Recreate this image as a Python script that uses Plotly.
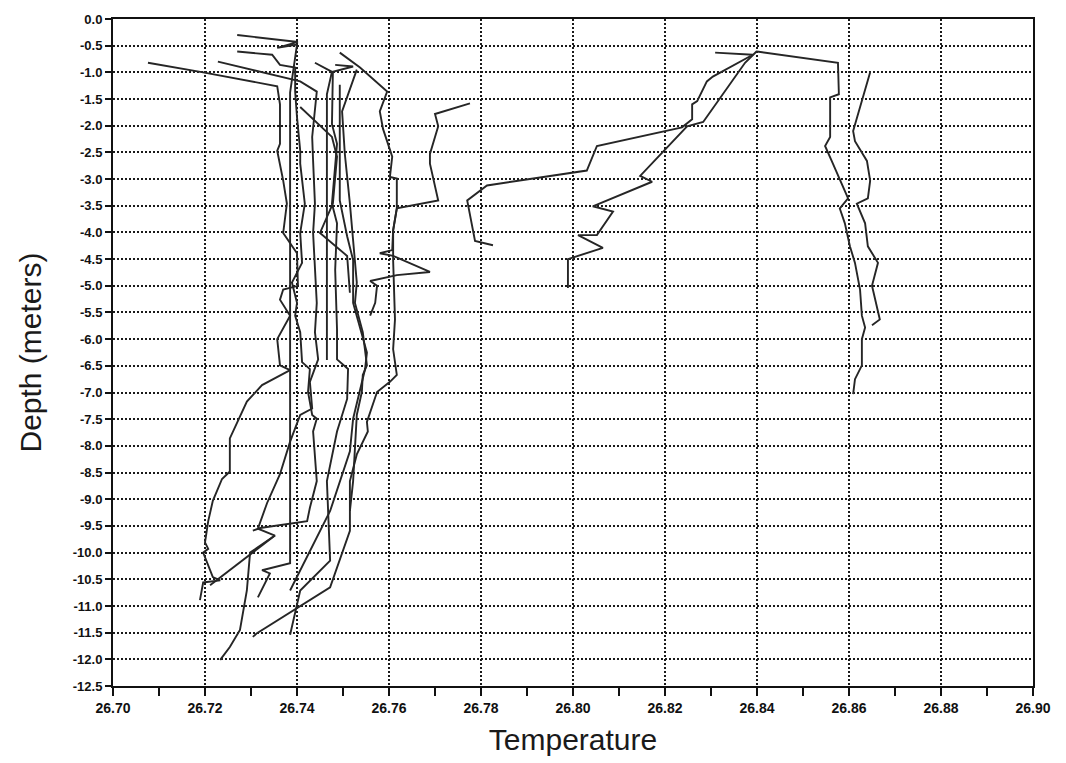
import plotly.graph_objects as go

# ---- tick labels ----
x_tick_vals = [26.70, 26.72, 26.74, 26.76, 26.78, 26.80, 26.82, 26.84, 26.86, 26.88, 26.90]
x_tick_text = ["26.70", "26.72", "26.74", "26.76", "26.78", "26.80", "26.82", "26.84", "26.86", "26.88", "26.90"]
y_tick_vals = [0.0, -0.5, -1.0, -1.5, -2.0, -2.5, -3.0, -3.5, -4.0, -4.5, -5.0, -5.5, -6.0, -6.5,
               -7.0, -7.5, -8.0, -8.5, -9.0, -9.5, -10.0, -10.5, -11.0, -11.5, -12.0, -12.5]
y_tick_text = ["0.0", "-0.5", "-1.0", "-1.5", "-2.0", "-2.5", "-3.0", "-3.5", "-4.0", "-4.5", "-5.0",
               "-5.5", "-6.0", "-6.5", "-7.0", "-7.5", "-8.0", "-8.5", "-9.0", "-9.5", "-10.0",
               "-10.5", "-11.0", "-11.5", "-12.0", "-12.5"]

# ---- temperature profiles (temperature, depth) ----
p01_temp = [26.7076, 26.7196, 26.7357, 26.7363, 26.7363, 26.7357, 26.7370, 26.7378, 26.7370, 26.7400,
            26.7402, 26.7370, 26.7363, 26.7385, 26.7357, 26.7363, 26.7385, 26.7324, 26.7291, 26.7254,
            26.7254, 26.7237, 26.7217, 26.7207, 26.7200, 26.7207, 26.7196, 26.7217, 26.7233, 26.7196, 26.7189]
p01_depth = [-0.82, -1.00, -1.26, -1.60, -2.34, -2.47, -3.03, -3.46, -4.01, -4.39,
             -5.00, -5.07, -5.26, -5.56, -6.00, -6.49, -6.58, -6.86, -7.17, -7.86,
             -8.48, -8.62, -9.03, -9.41, -9.81, -9.93, -10.00, -10.46, -10.52, -10.56, -10.89]

p02_temp = [26.7270, 26.7402, 26.7357, 26.7400, 26.7385, 26.7385, 26.7324, 26.7341, 26.7315]
p02_depth = [-0.30, -0.43, -0.54, -0.48, -1.38, -10.20, -10.33, -10.39, -10.84]

p03_temp = [26.7270, 26.7346, 26.7363, 26.7396, 26.7396, 26.7400, 26.7407, 26.7407, 26.7417, 26.7407,
            26.7411, 26.7389, 26.7400, 26.7396, 26.7407, 26.7411, 26.7428, 26.7424, 26.7433, 26.7443,
            26.7435, 26.7443, 26.7428, 26.7422, 26.7320, 26.7304]
p03_depth = [-0.61, -0.67, -0.86, -0.91, -1.36, -1.84, -2.47, -2.71, -3.46, -4.01,
             -4.57, -4.94, -5.32, -5.56, -5.87, -6.43, -6.56, -6.99, -7.42, -7.49,
             -7.73, -8.66, -9.16, -9.41, -9.54, -9.59]

p04_temp = [26.7228, 26.7407, 26.7443, 26.7433, 26.7435, 26.7439, 26.7435, 26.7443, 26.7439, 26.7446,
            26.7428, 26.7433, 26.7407, 26.7385, 26.7363, 26.7335, 26.7315, 26.7352, 26.7298, 26.7291,
            26.7276, 26.7254, 26.7233]
p04_depth = [-0.80, -1.17, -1.36, -2.21, -2.66, -3.46, -4.01, -5.32, -5.87, -6.38,
             -6.80, -7.30, -7.42, -7.92, -8.53, -9.07, -9.55, -9.68, -10.00, -10.71,
             -11.45, -11.77, -12.01]

p05_temp = [26.7439, 26.7476, 26.7465, 26.7465]
p05_depth = [-0.82, -0.99, -1.41, -6.39]

p06_temp = [26.7483, 26.7522, 26.7478, 26.7476, 26.7487, 26.7476, 26.7487, 26.7483, 26.7487, 26.7487,
            26.7511, 26.7509, 26.7487, 26.7467, 26.7465, 26.7472, 26.7407, 26.7385]
p06_depth = [-0.86, -0.89, -0.99, -1.97, -2.34, -3.46, -3.83, -4.70, -5.82, -6.38,
             -6.56, -7.12, -7.73, -8.53, -8.66, -10.15, -10.71, -11.54]

p07_temp = [26.7493, 26.7537, 26.7596, 26.7580, 26.7587, 26.7607, 26.7602, 26.7617, 26.7617, 26.7609,
            26.7609, 26.7613, 26.7609, 26.7617, 26.7602, 26.7574, 26.7552, 26.7554, 26.7530, 26.7515,
            26.7515, 26.7472, 26.7313, 26.7304]
p07_depth = [-0.63, -0.91, -1.36, -1.73, -2.06, -2.58, -2.96, -2.99, -3.55, -3.96,
             -4.52, -5.63, -6.19, -6.67, -6.80, -6.99, -7.55, -7.73, -8.16, -8.66,
             -9.59, -10.65, -11.51, -11.58]

p08_temp = [26.7493, 26.7493, 26.7509, 26.7522, 26.7522, 26.7541, 26.7552, 26.7548, 26.7537, 26.7522,
            26.7515, 26.7493, 26.7472, 26.7385]
p08_depth = [-1.23, -3.40, -4.07, -4.52, -5.32, -5.93, -6.25, -6.56, -6.93, -7.49,
             -8.10, -8.66, -9.22, -10.71]

p09_temp = [26.7530, 26.7511, 26.7498, 26.7504, 26.7515, 26.7530, 26.7526, 26.7543, 26.7552, 26.7543,
            26.7541, 26.7530, 26.7526, 26.7522, 26.7515]
p09_depth = [-0.95, -1.41, -1.73, -2.53, -3.46, -4.94, -5.32, -5.87, -6.49, -6.67,
             -6.99, -7.42, -8.05, -8.66, -9.22]

p10_temp = [26.7407, 26.7476, 26.7487, 26.7478, 26.7450, 26.7509, 26.7515]
p10_depth = [-1.65, -2.21, -2.58, -3.46, -4.01, -4.44, -5.13]

p11_temp = [26.7211, 26.7352]
p11_depth = [-10.61, -9.68]

p12_temp = [26.7776, 26.7700, 26.7707, 26.7689, 26.7689, 26.7707, 26.7617, 26.7609, 26.7607, 26.7580,
            26.7609, 26.7689, 26.7617, 26.7559, 26.7574, 26.7570, 26.7559]
p12_depth = [-1.58, -1.78, -2.01, -2.53, -2.71, -3.40, -3.55, -3.96, -4.33, -4.39,
             -4.44, -4.74, -4.80, -4.91, -5.00, -5.32, -5.56]

p13_temp = [26.8309, 26.8391, 26.8304, 26.8291, 26.8270, 26.8259, 26.8259, 26.8237, 26.8052, 26.8030,
            26.7813, 26.7770, 26.7787, 26.7826]
p13_depth = [-0.63, -0.67, -1.08, -1.17, -1.54, -1.60, -1.88, -2.03, -2.38, -2.84,
             -3.12, -3.40, -4.16, -4.24]

p14_temp = [26.8400, 26.8374, 26.8283, 26.8248, 26.8146, 26.8172, 26.8043, 26.8087, 26.8052, 26.8011,
            26.8065, 26.8000, 26.7989, 26.7989]
p14_depth = [-0.60, -0.82, -1.93, -2.01, -2.94, -3.05, -3.51, -3.61, -4.05, -4.05,
             -4.29, -4.48, -4.50, -5.04]

p15_temp = [26.8400, 26.8576, 26.8578, 26.8559, 26.8559, 26.8548, 26.8565, 26.8598, 26.8580, 26.8591,
            26.8602, 26.8613, 26.8624, 26.8628, 26.8635, 26.8628, 26.8628, 26.8613, 26.8609]
p15_depth = [-0.61, -0.82, -1.41, -1.47, -2.21, -2.38, -2.71, -3.36, -3.55, -3.83,
             -4.26, -4.57, -5.07, -5.56, -5.78, -6.00, -6.49, -6.75, -7.03]

p16_temp = [26.8646, 26.8628, 26.8609, 26.8613, 26.8639, 26.8646, 26.8641, 26.8617, 26.8635, 26.8641,
            26.8663, 26.8650, 26.8657, 26.8667, 26.8650]
p16_depth = [-1.00, -1.54, -2.10, -2.29, -2.66, -3.03, -3.36, -3.46, -3.83, -4.26,
             -4.57, -5.00, -5.26, -5.63, -5.74]

profiles = [
    (p01_temp, p01_depth), (p02_temp, p02_depth), (p03_temp, p03_depth), (p04_temp, p04_depth),
    (p05_temp, p05_depth), (p06_temp, p06_depth), (p07_temp, p07_depth), (p08_temp, p08_depth),
    (p09_temp, p09_depth), (p10_temp, p10_depth), (p11_temp, p11_depth), (p12_temp, p12_depth),
    (p13_temp, p13_depth), (p14_temp, p14_depth), (p15_temp, p15_depth), (p16_temp, p16_depth),
]

fig = go.Figure()
for t, d in profiles:
    fig.add_trace(go.Scatter(x=t, y=d, mode="lines", showlegend=False, hoverinfo="skip",
                             line=dict(color="#262626", width=1.9)))

tick_family = "Liberation Sans Narrow, Arial Narrow, Liberation Sans, Arial"
title_font = dict(family="Liberation Sans, Arial, sans-serif", size=30, color="#1a1a1a")

fig.update_layout(
    width=1066, height=763,
    margin=dict(l=113, r=33, t=14, b=77),
    paper_bgcolor="white", plot_bgcolor="white",
    showlegend=False,
)
fig.update_xaxes(
    range=[26.70, 26.90], tickvals=x_tick_vals, ticktext=x_tick_text,
    ticks="outside", ticklen=8, tickwidth=2, tickcolor="#111",
    minor=dict(dtick=0.01, tick0=26.70, ticks="outside", ticklen=8, tickwidth=2, tickcolor="#111", showgrid=False),
    showgrid=True, gridcolor="#1a1a1a", gridwidth=1.8, griddash="2px,2px",
    showline=True, linecolor="#111", linewidth=2, mirror=True, zeroline=False,
    tickfont=dict(family=tick_family, size=14, color="#111111", weight="bold"),
    title=dict(text="Temperature", font=title_font, standoff=14),
)
fig.update_yaxes(
    range=[-12.5, 0.0], tickvals=y_tick_vals, ticktext=y_tick_text,
    ticks="outside", ticklen=6, tickwidth=2, tickcolor="#111",
    showgrid=True, gridcolor="#1a1a1a", gridwidth=1.8, griddash="2px,2px",
    showline=True, linecolor="#111", linewidth=2, mirror=True, zeroline=False,
    tickfont=dict(family=tick_family, size=13, color="#111111", weight="bold"),
    title=dict(text="Depth (meters)", font=title_font, standoff=22),
)

fig.write_html("out.html", config={"displayModeBar": False},
               post_script="document.body.style.margin='0';")
